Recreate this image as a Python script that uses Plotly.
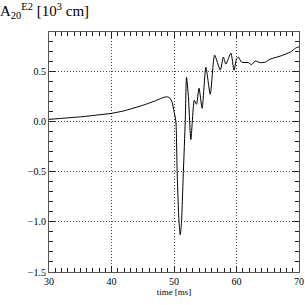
import plotly.graph_objects as go

time_ms = [30.0, 32.0, 35.0, 38.0, 40.0, 42.0, 45.0, 47.0, 48.0, 48.8, 49.3, 49.7, 50.0, 50.3,
           50.5, 50.8, 51.0, 51.2, 51.5, 51.8, 52.0, 52.3, 52.7, 53.25, 53.6, 54.0, 54.5,
           55.1, 55.8, 56.5, 57.4, 57.9, 58.3, 59.1, 59.6, 60.0, 60.3, 60.8, 61.9, 62.4,
           63.0, 63.8, 64.6, 65.4, 67.0, 68.6, 69.6, 70.0]
a20 = [0.02, 0.03, 0.045, 0.065, 0.08, 0.105, 0.16, 0.205, 0.23, 0.245, 0.235, 0.19, 0.1, 0.0,
       -0.5, -1.0, -1.13, -1.0, -0.5, 0.0, 0.44, 0.25, -0.18, 0.21, 0.17, 0.33, 0.13,
       0.54, 0.27, 0.66, 0.51, 0.64, 0.57, 0.68, 0.51, 0.62, 0.64, 0.59, 0.585, 0.565,
       0.6, 0.585, 0.59, 0.62, 0.65, 0.69, 0.735, 0.74]

fig = go.Figure()
fig.add_trace(go.Scatter(x=time_ms, y=a20, mode="lines",
                         line=dict(color="black", width=1, shape="spline", smoothing=0.6),
                         showlegend=False))

tick_font = dict(family="Liberation Serif", size=10, color="black")

fig.update_xaxes(range=[30, 70], showline=True, linecolor="#555555", linewidth=1, mirror="ticks",
                 ticks="inside", ticklen=6, tickwidth=1, tickcolor="#222222", dtick=10,
                 minor=dict(ticks="inside", ticklen=4, tickwidth=1, tickcolor="#222222", dtick=1),
                 showgrid=True, gridcolor="#444444", griddash="1px,2px", gridwidth=1,
                 zeroline=False, tickfont=tick_font,
                 title=dict(text="time [ms]", font=dict(family="Liberation Serif", size=9, color="black"),
                            standoff=2))
fig.update_yaxes(range=[-1.5, 0.89], showline=True, linecolor="#555555", linewidth=1, mirror="ticks",
                 ticks="inside", ticklen=6, tickwidth=1, tickcolor="#222222", dtick=0.5, tickformat=".1f",
                 minor=dict(ticks="inside", ticklen=4, tickwidth=1, tickcolor="#222222", dtick=0.1),
                 showgrid=True, gridcolor="#444444", griddash="1px,2px", gridwidth=1,
                 zeroline=False, tickfont=tick_font)

fig.update_layout(
    template="none",
    width=305, height=305,
    margin=dict(l=49, r=6, t=32, b=33),
    paper_bgcolor="white", plot_bgcolor="white",
    title=dict(text="A<sub>20</sub><sup>E2</sup> [10<sup>3</sup> cm]",
               font=dict(family="Liberation Serif", size=15, color="black"),
               x=0.0, xanchor="left", y=0.965, yanchor="middle"),
)

fig.write_html("out.html", config={"displayModeBar": False},
               post_script="document.body.style.margin='0';document.body.style.overflow='hidden';")
